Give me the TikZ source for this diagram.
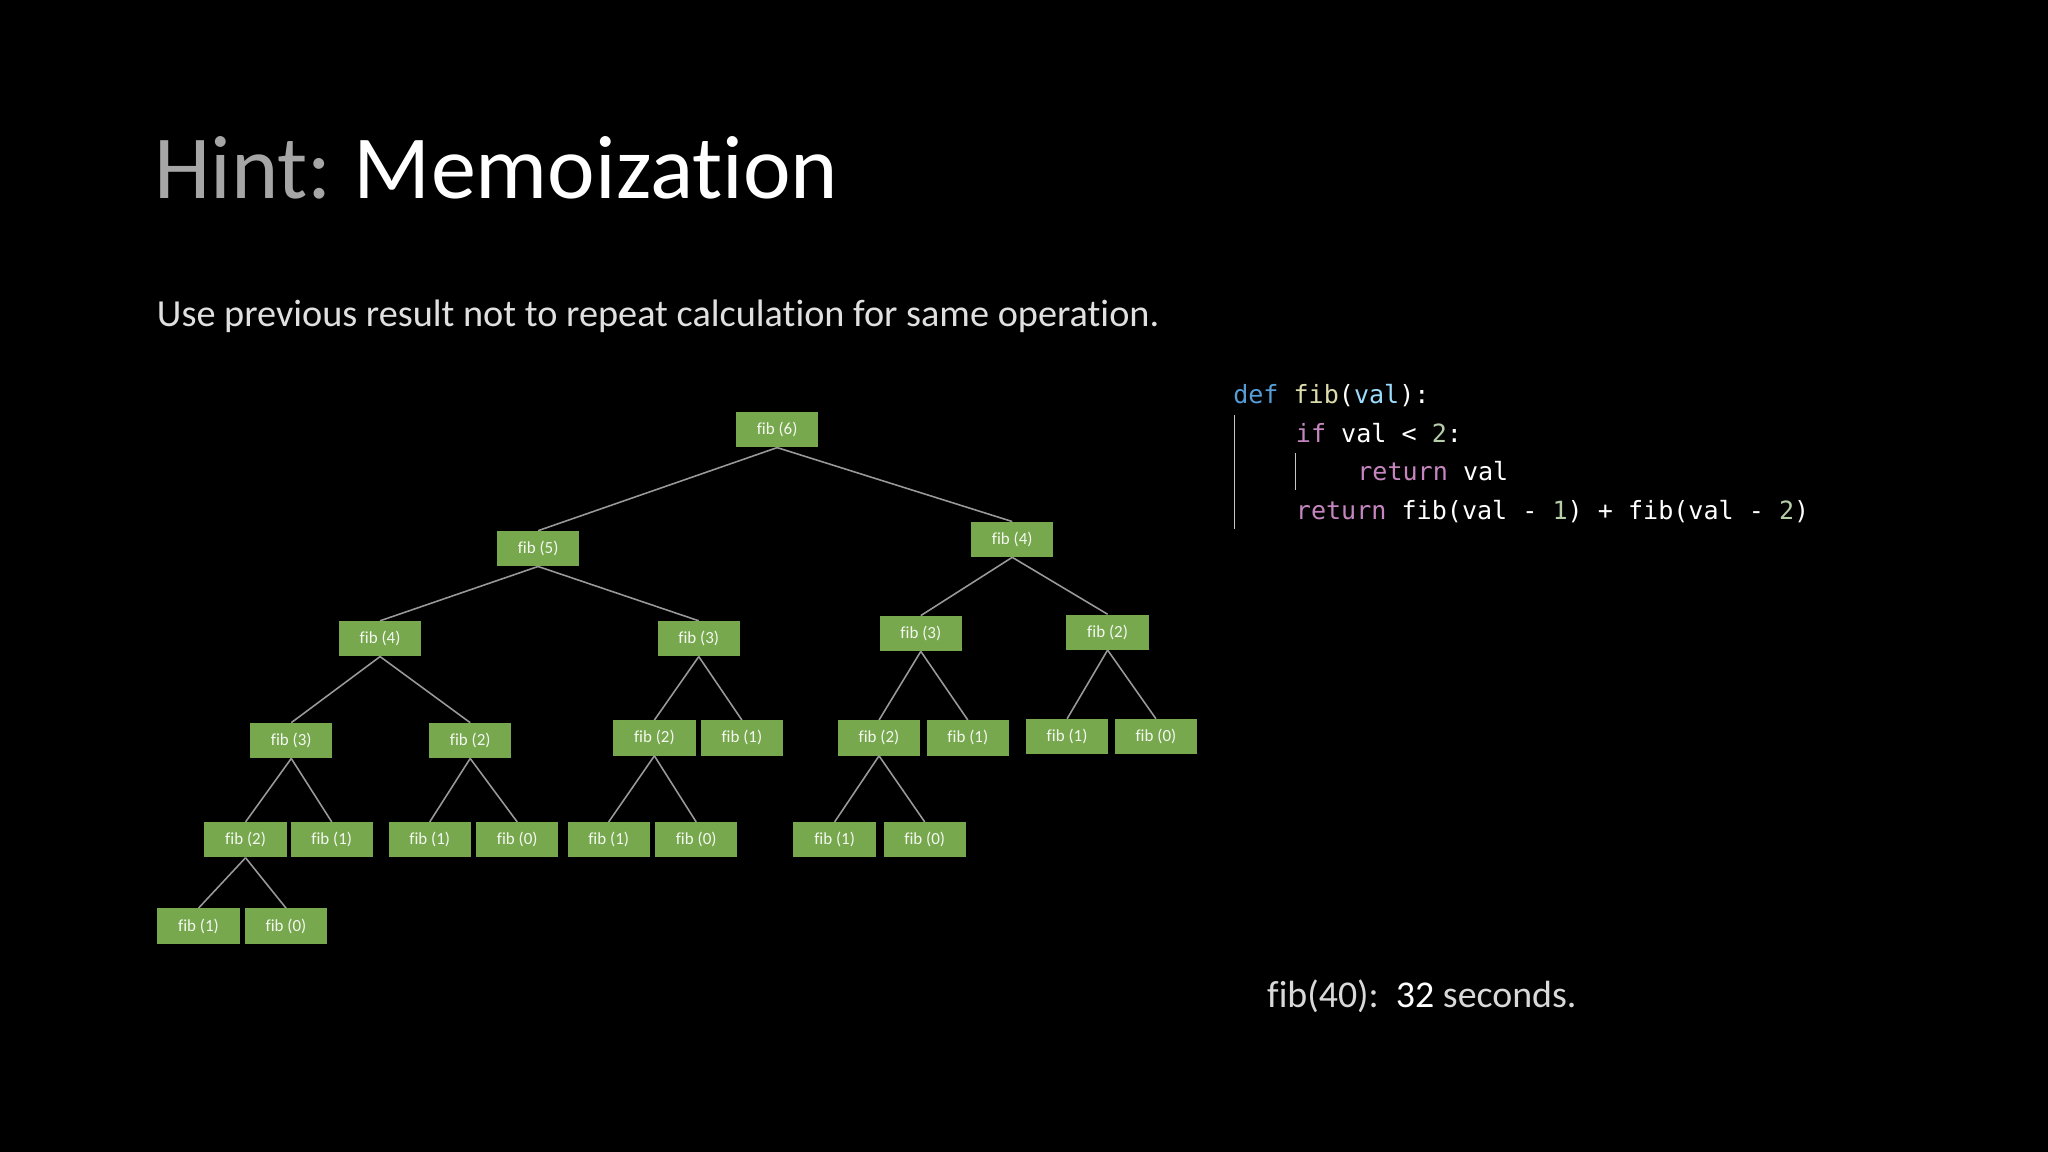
\documentclass[tikz,border=0pt]{standalone}
\usepackage{fontspec}
\setmainfont[Ligatures={NoCommon,NoRare}]{Carlito}
\setmonofont{DejaVu Sans Mono}
\definecolor{nodegreen}{HTML}{77A84E}
\definecolor{kwblue}{HTML}{569CD6}
\definecolor{fnyellow}{HTML}{DCDCAA}
\definecolor{varblue}{HTML}{9CDCFE}
\definecolor{kwpink}{HTML}{C586C0}
\definecolor{numgreen}{HTML}{B5CEA8}
\tikzset{
 fibnode/.style={fill=nodegreen,draw=none,minimum width=63pt,minimum height=27pt,inner sep=0pt,text=white!92!nodegreen,font=\fontsize{13}{13}\selectfont},
 edge/.style={draw=gray!80,line width=1.2pt},
 codeline/.style={anchor=base west,inner sep=0pt,font=\ttfamily\fontsize{19.2}{19.2}\selectfont,text=white}
}
\begin{document}
\begin{tikzpicture}[x=1pt,y=-1pt]
\fill[black] (0,0) rectangle (1568,882);
\useasboundingbox (0,0) rectangle (1568,882);
\node[anchor=base west,inner sep=0pt,font=\fontsize{69}{69}\selectfont] (title) at (118,152) {\textcolor{gray!70!white}{Hint:}\hspace{-4pt} \textcolor{white}{Memoization}};
\node[anchor=base west,inner sep=0pt,font=\fontsize{29.3}{29.3}\selectfont,text=white!88!black] (sub) at (120,250) {Use previous result not to repeat calculation for same operation.};
% tree
\node[fibnode] (a) at (595,329) {fib (6)};
\node[fibnode] (b) at (412,420) {fib (5)};
\node[fibnode] (c) at (775,413) {fib (4)};
\node[fibnode] (d) at (291,489) {fib (4)};
\node[fibnode] (e) at (535,489) {fib (3)};
\node[fibnode] (f) at (705,485) {fib (3)};
\node[fibnode] (g) at (848,484) {fib (2)};
\node[fibnode] (h) at (223,567) {fib (3)};
\node[fibnode] (i) at (360,567) {fib (2)};
\node[fibnode] (j) at (501,565) {fib (2)};
\node[fibnode] (k) at (568,565) {fib (1)};
\node[fibnode] (l) at (673,565) {fib (2)};
\node[fibnode] (m) at (741,565) {fib (1)};
\node[fibnode] (n) at (817,564) {fib (1)};
\node[fibnode] (o) at (885,564) {fib (0)};
\node[fibnode] (p) at (188,643) {fib (2)};
\node[fibnode] (q) at (254,643) {fib (1)};
\node[fibnode] (r) at (329,643) {fib (1)};
\node[fibnode] (s) at (396,643) {fib (0)};
\node[fibnode] (t) at (466,643) {fib (1)};
\node[fibnode] (u) at (533,643) {fib (0)};
\node[fibnode] (v) at (639,643) {fib (1)};
\node[fibnode] (w) at (708,643) {fib (0)};
\node[fibnode] (x) at (152,709) {fib (1)};
\node[fibnode] (y) at (219,709) {fib (0)};
\foreach \p/\c in {a/b,a/c,b/d,b/e,c/f,c/g,d/h,d/i,e/j,e/k,f/l,f/m,g/n,g/o,h/p,h/q,i/r,i/s,j/t,j/u,l/v,l/w,p/x,p/y}
  \draw[edge] (\p.south) -- (\c.north);
% code
\draw[gray!45,line width=0.8pt] (945,318) -- (945,405);
\draw[gray!45,line width=0.8pt] (992,347) -- (992,375);
\node[codeline] (c1) at (944,309) {\textcolor{kwblue}{def} \textcolor{fnyellow}{fib}(\textcolor{varblue}{val}):};
\node[codeline] (c2) at (992,339) {\textcolor{kwpink}{if} val < \textcolor{numgreen}{2}:};
\node[codeline] (c3) at (1039,368) {\textcolor{kwpink}{return} val};
\node[codeline] (c4) at (992,398) {\textcolor{kwpink}{return} fib(val - \textcolor{numgreen}{1}) + fib(val - \textcolor{numgreen}{2})};
\node[anchor=base west,inner sep=0pt,font=\fontsize{29}{29}\selectfont,text=white!85!black] (time) at (970,771) {fib(40):\ \ \textcolor{white}{32} seconds.};
\end{tikzpicture}
\end{document}
